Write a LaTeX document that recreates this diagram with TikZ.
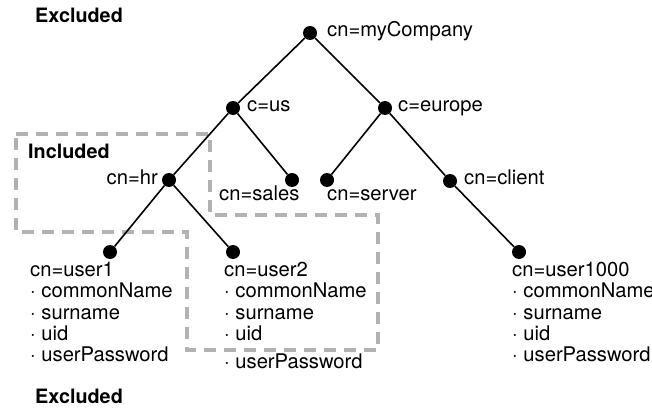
\documentclass[tikz,border=0pt]{standalone}
\usepackage{fontspec}
\setmainfont{TeX Gyre Heros}
\begin{document}
\begin{tikzpicture}[x=1pt,y=-1pt,
  dot/.style={circle,fill=black,inner sep=0pt,minimum size=14pt},
  lbl/.style={inner sep=0pt,font=\fontsize{20.2}{21}\selectfont},
  hd/.style={inner sep=0pt,font=\fontsize{19.8}{21}\selectfont\bfseries},
  edge/.style={line width=1.6pt},
  region/.style={draw=black!30,line width=4pt,dash pattern=on 12pt off 8pt}]
\useasboundingbox (0,0) rectangle (652,414);
% region
\draw[region] (16,134) -- (210,134) -- (210,215) -- (378,215) -- (378,350) -- (187,350) -- (187,232) -- (16,232) -- cycle;
% dots
\node[dot] (co) at (310,33) {};
\node[dot] (us) at (233,108) {};
\node[dot] (eu) at (385,108) {};
\node[dot] (hr) at (169,180) {};
\node[dot] (sa) at (292,180) {};
\node[dot] (se) at (327,180) {};
\node[dot] (cl) at (450,181) {};
\node[dot] (u1) at (110,252) {};
\node[dot] (u2) at (233,252) {};
\node[dot] (uk) at (519,252) {};
% edges
\draw[edge] (co) -- (us);
\draw[edge] (co) -- (eu);
\draw[edge] (us) -- (hr);
\draw[edge] (us) -- (sa);
\draw[edge] (eu) -- (se);
\draw[edge] (eu) -- (cl);
\draw[edge] (hr) -- (u1);
\draw[edge] (hr) -- (u2);
\draw[edge] (cl) -- (uk);
% labels
\node[hd,anchor=mid west] (ex1) at (35,20) {Excluded};
\node[hd,anchor=mid west] (inc) at (28,156) {Included};
\node[hd,anchor=mid west] (ex2) at (35,401) {Excluded};
\node[lbl,anchor=mid west] (lco) at (327,34) {cn=myCompany};
\node[lbl,anchor=mid west] (lus) at (247,109) {c=us};
\node[lbl,anchor=mid west] (leu) at (398,109) {c=europe};
\node[lbl,anchor=mid west] (lcl) at (464,182) {cn=client};
\node[lbl,anchor=mid east] (lhr) at (158,182) {cn=hr};
\node[lbl,anchor=mid west] (lsa) at (219,198) {cn=sales};
\node[lbl,anchor=mid west] (lse) at (327,198) {cn=server};
% user1
\node[lbl,anchor=mid west] (a1) at (30,274) {cn=user1};
\node[lbl,anchor=mid west] (a2) at (30,295) {· commonName};
\node[lbl,anchor=mid west] (a3) at (30,316.5) {· surname};
\node[lbl,anchor=mid west] (a4) at (30,338) {· uid};
\node[lbl,anchor=mid west] (a5) at (30,359) {· userPassword};
% user2
\node[lbl,anchor=mid west] (b1) at (224,274) {cn=user2};
\node[lbl,anchor=mid west] (b2) at (224,295) {· commonName};
\node[lbl,anchor=mid west] (b3) at (224,316.5) {· surname};
\node[lbl,anchor=mid west] (b4) at (224,338) {· uid};
\node[lbl,anchor=mid west] (b5) at (224,366) {· userPassword};
% user1000
\node[lbl,anchor=mid west] (c1) at (512,274) {cn=user1000};
\node[lbl,anchor=mid west] (c2) at (512,295) {· commonName};
\node[lbl,anchor=mid west] (c3) at (512,316.5) {· surname};
\node[lbl,anchor=mid west] (c4) at (512,338) {· uid};
\node[lbl,anchor=mid west] (c5) at (512,359) {· userPassword};
\end{tikzpicture}
\end{document}
